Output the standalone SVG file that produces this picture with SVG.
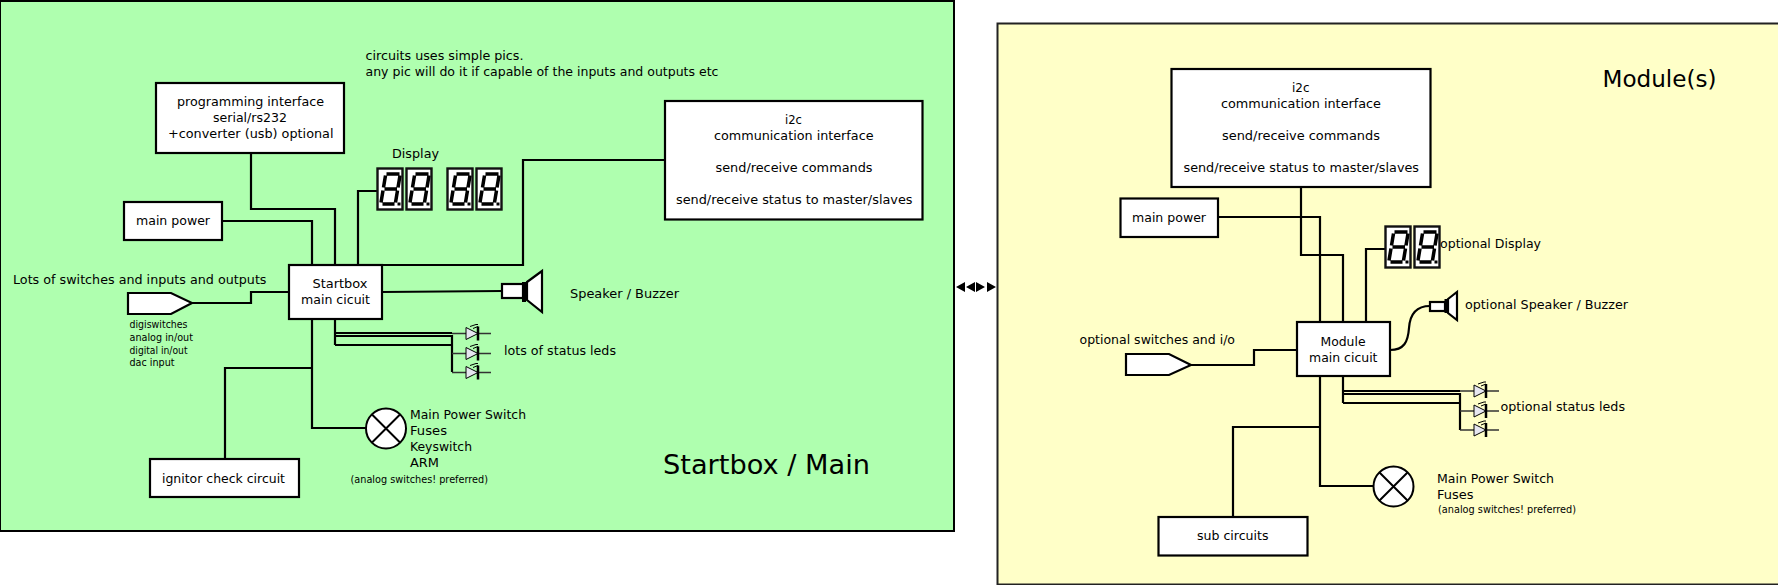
<svg xmlns="http://www.w3.org/2000/svg" xmlns:xlink="http://www.w3.org/1999/xlink" width="1778" height="585" viewBox="0 0 1778 585">
<style>
text{font-family:"DejaVu Sans",sans-serif;font-size:13px;fill:#000}
.s{font-size:10px}
.box{fill:#fff;stroke:#000;stroke-width:2.200}
.w{fill:none;stroke:#000;stroke-width:2.200}
</style>
<defs>
<g id="digit">
<rect x="0" y="0" width="25" height="41" fill="#fff" stroke="#111" stroke-width="2.400"/>
<path d="M9 5.500H22M8 7L6 19M22.500 7L20.500 19M7 20.500H19.500M5.500 22L3.500 34M20 22L18 34M5 35.500H17" fill="none" stroke="#000" stroke-width="3.500"/>
<rect x="20" y="34" width="3" height="3" fill="#000"/>
</g>
<g id="led">
<path d="M-14 0H25" fill="none" stroke="#333" stroke-width="1.300"/>
<path d="M0-6V6L12 0Z" fill="#e6e6f0" stroke="#000" stroke-width="1"/>
<path d="M12-7V7" stroke="#000" stroke-width="2.500"/>
<path d="M4-7L10-9L12-9M7-5L12-7" fill="none" stroke="#000" stroke-width="1"/>
</g>
<g id="lamp">
<circle r="20" fill="#fff" stroke="#000" stroke-width="2"/>
<path d="M-14-14L14 14M-14 14L14-14" stroke="#000" stroke-width="2"/>
</g>
</defs>
<g id="panel-main"><rect x="0" y="1" width="954" height="530" fill="#afffaf" stroke="#000" stroke-width="2"/>
<text x="663" y="474" style="font-size:27px" textLength="207" lengthAdjust="spacingAndGlyphs">Startbox / Main</text></g>
<g id="panel-module"><rect x="997.500" y="23.500" width="800" height="561" fill="#ffffc8" stroke="#222" stroke-width="2"/>
<text x="1602.500" y="87" style="font-size:23.500px" textLength="114" lengthAdjust="spacingAndGlyphs">Module(s)</text></g>
<g id="connectors">
<path class="w" d="M251 153V209H335V265M222 221H312V265M358 265V191H377M358 265H523V160H665"/>
<path class="w" d="M192 303H251V292H289M382 292L502 291"/>
<path class="w" d="M335 319V345M335 333H452M335 336H452V372M335 345H452"/>
<path class="w" d="M312 319V428H366M312 368H225V459"/>
<path class="w" d="M1218 217H1320V322M1301 187V255H1343V322M1366 322V249H1385"/>
<path class="w" d="M1191 365H1254V350H1297M1390 350C1404 350 1408 342 1409 328C1410 314 1416 306 1430 306"/>
<path class="w" d="M1343 376V403M1343 391H1460M1343 394H1460V430M1343 403H1460"/>
<path class="w" d="M1320 376V486H1374M1320 427H1233V517"/>
<path fill="#000" d="M956 287L965 282V292ZM966 287L975 282V292ZM985 287L976 282V292ZM996 287L987 282V292Z"/>
</g>
<g id="note"><text x="365.500" y="59.500" textLength="158" lengthAdjust="spacingAndGlyphs">circuits uses simple pics.</text><text x="365.500" y="75.500" textLength="353" lengthAdjust="spacingAndGlyphs">any pic will do it if capable of the inputs and outputs etc</text></g>
<g id="programming"><rect class="box" x="156" y="83" width="188" height="70"/><text x="177" y="105.500" textLength="147" lengthAdjust="spacingAndGlyphs">programming interface</text><text x="213" y="121.500" textLength="74" lengthAdjust="spacingAndGlyphs">serial/rs232</text><text x="168" y="137.500" textLength="165.500" lengthAdjust="spacingAndGlyphs">+converter (usb) optional</text></g>
<g id="i2c-main"><rect class="box" x="665" y="101" width="257.500" height="118.500"/><text x="785" y="123.500" textLength="17" lengthAdjust="spacingAndGlyphs">i2c</text><text x="714" y="139.500" textLength="159.500" lengthAdjust="spacingAndGlyphs">communication interface</text><text x="715.500" y="171.500" textLength="157" lengthAdjust="spacingAndGlyphs">send/receive commands</text><text x="676" y="203.500" textLength="236.500" lengthAdjust="spacingAndGlyphs">send/receive status to master/slaves</text></g>
<g id="power-main"><rect class="box" x="124" y="202" width="98" height="38"/><text x="136" y="225" textLength="74" lengthAdjust="spacingAndGlyphs">main power</text></g>
<g id="display-main"><text x="392" y="157.500" textLength="47" lengthAdjust="spacingAndGlyphs">Display</text><use xlink:href="#digit" x="377.500" y="168.500"/><use xlink:href="#digit" x="406.500" y="168.500"/><use xlink:href="#digit" x="447.500" y="168.500"/><use xlink:href="#digit" x="476.500" y="168.500"/></g>
<g id="startbox"><rect class="box" x="289" y="265" width="93" height="54"/><text x="312.500" y="287.500" textLength="55" lengthAdjust="spacingAndGlyphs">Startbox</text><text x="301" y="303.500" textLength="69" lengthAdjust="spacingAndGlyphs">main cicuit</text></g>
<g id="inputs-main"><text x="13" y="283.500" textLength="253.500" lengthAdjust="spacingAndGlyphs">Lots of switches and inputs and outputs</text><path class="box" d="M128 293H171L192 303L171 314H128Z"/><text class="s" x="129.500" y="328" textLength="58" lengthAdjust="spacingAndGlyphs">digiswitches</text><text class="s" x="129.500" y="341" textLength="63.500" lengthAdjust="spacingAndGlyphs">analog in/out</text><text class="s" x="129.500" y="354" textLength="58" lengthAdjust="spacingAndGlyphs">digital in/out</text><text class="s" x="129.500" y="366" textLength="45" lengthAdjust="spacingAndGlyphs">dac input</text></g>
<g id="speaker-main"><rect class="box" x="502" y="284" width="21" height="14"/><path d="M524 282V302" stroke="#000" stroke-width="4"/><path class="box" d="M527 282L542 271V312L527 300Z"/><text x="570" y="297.500" textLength="109" lengthAdjust="spacingAndGlyphs">Speaker / Buzzer</text></g>
<g id="leds-main"><use xlink:href="#led" x="466" y="333.500"/><use xlink:href="#led" x="466" y="353.500"/><use xlink:href="#led" x="466" y="372.500"/><text x="504" y="355" textLength="112" lengthAdjust="spacingAndGlyphs">lots of status leds</text></g>
<g id="switch-main"><use xlink:href="#lamp" x="386" y="428.500"/><text x="410" y="419" textLength="116" lengthAdjust="spacingAndGlyphs">Main Power Switch</text><text x="410" y="435" textLength="37" lengthAdjust="spacingAndGlyphs">Fuses</text><text x="410" y="451" textLength="62" lengthAdjust="spacingAndGlyphs">Keyswitch</text><text x="410" y="467" textLength="29" lengthAdjust="spacingAndGlyphs">ARM</text><text class="s" x="350.500" y="482.500" textLength="137.500" lengthAdjust="spacingAndGlyphs">(analog switches! preferred)</text></g>
<g id="ignitor"><rect class="box" x="150" y="459" width="149" height="38"/><text x="162" y="482.500" textLength="123" lengthAdjust="spacingAndGlyphs">ignitor check circuit</text></g>
<g id="i2c-module"><rect class="box" x="1171.500" y="69" width="259" height="118"/><text x="1292" y="91.500" textLength="17.500" lengthAdjust="spacingAndGlyphs">i2c</text><text x="1221" y="107.500" textLength="160" lengthAdjust="spacingAndGlyphs">communication interface</text><text x="1222" y="139.500" textLength="158" lengthAdjust="spacingAndGlyphs">send/receive commands</text><text x="1183.500" y="171.500" textLength="235.500" lengthAdjust="spacingAndGlyphs">send/receive status to master/slaves</text></g>
<g id="power-module"><rect class="box" x="1120.500" y="198.500" width="97.500" height="38.500"/><text x="1132" y="222" textLength="74" lengthAdjust="spacingAndGlyphs">main power</text></g>
<g id="display-module"><use xlink:href="#digit" x="1385.500" y="226.500"/><use xlink:href="#digit" x="1414.500" y="226.500"/><text x="1440" y="247.500" textLength="101" lengthAdjust="spacingAndGlyphs">optional Display</text></g>
<g id="speaker-module"><rect class="box" x="1430" y="302" width="15" height="9"/><path d="M1446 299V313" stroke="#000" stroke-width="3"/><path class="box" d="M1448 299L1457 292V320L1448 313Z"/><text x="1465" y="309" textLength="163" lengthAdjust="spacingAndGlyphs">optional Speaker / Buzzer</text></g>
<g id="module"><rect class="box" x="1297" y="322" width="93" height="54"/><text x="1320.500" y="346" textLength="45" lengthAdjust="spacingAndGlyphs">Module</text><text x="1309" y="362" textLength="68.500" lengthAdjust="spacingAndGlyphs">main cicuit</text></g>
<g id="inputs-module"><text x="1079.500" y="344" textLength="155.500" lengthAdjust="spacingAndGlyphs">optional switches and i/o</text><path class="box" d="M1126 354H1169L1191 365L1169 375H1126Z"/></g>
<g id="leds-module"><use xlink:href="#led" x="1474" y="391"/><use xlink:href="#led" x="1474" y="411"/><use xlink:href="#led" x="1474" y="430"/><text x="1500.500" y="411" textLength="124.500" lengthAdjust="spacingAndGlyphs">optional status leds</text></g>
<g id="switch-module"><use xlink:href="#lamp" x="1393.500" y="486.500"/><text x="1437" y="482.500" textLength="117" lengthAdjust="spacingAndGlyphs">Main Power Switch</text><text x="1437" y="498.500" textLength="36.500" lengthAdjust="spacingAndGlyphs">Fuses</text><text class="s" x="1438" y="512.500" textLength="138" lengthAdjust="spacingAndGlyphs">(analog switches! preferred)</text></g>
<g id="sub"><rect class="box" x="1158.500" y="517" width="149" height="38.500"/><text x="1197" y="540" textLength="71.500" lengthAdjust="spacingAndGlyphs">sub circuits</text></g>
</svg>
